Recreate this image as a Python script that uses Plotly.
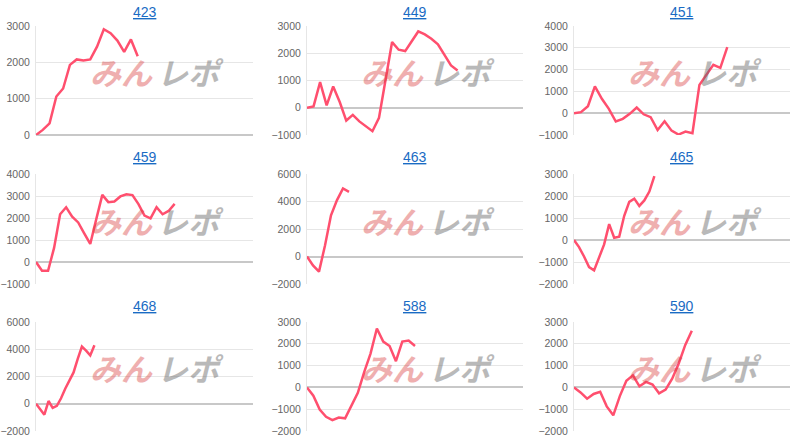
import plotly.graph_objects as go

titles = ["423", "449", "451", "459", "463", "465", "468", "588", "590"]

s423 = [0, 140, 320, 1060, 1280, 1930, 2080, 2050, 2080, 2430, 2910, 2800, 2600, 2290, 2630, 2170]
s449 = [0, 50, 940, 90, 780, 210, -470, -260, -500, -690, -860, -370, 1020, 2410, 2130, 2080,
        2440, 2800, 2690, 2530, 2330, 1920, 1550, 1370]
s451 = [0, 50, 320, 1230, 660, 200, -380, -260, -30, 260, -50, -180, -770, -370, -800, -980,
        -840, -920, 1300, 1760, 2220, 2080, 3030]
s459 = [0, -400, -400, 640, 2170, 2490, 2060, 1800, 1300, 820, 1950, 3050, 2720, 2750, 2980,
        3080, 3040, 2630, 2110, 1980, 2490, 2170, 2320, 2640]
s463 = [0, -650, -1100, 800, 3000, 4100, 4950, 4700]
s465 = [0, -320, -750, -1230, -1380, -800, -200, 720, 100, 150, 1100, 1730, 1880, 1550, 1800,
        2200, 2900]
s468 = [0, -400, -800, 200, -300, -150, 400, 1100, 1700, 2300, 3300, 4200, 3900, 3550, 4300]
s588 = [0, -380, -1020, -1350, -1500, -1380, -1420, -820, -250, 700, 1550, 2700, 2100, 1900,
        1200, 2100, 2150, 1900]
s590 = [0, -230, -520, -300, -200, -870, -1280, -400, 300, 550, 50, 250, 130, -270, -100, 400,
        1100, 1950, 2600]

series = [s423, s449, s451, s459, s463, s465, s468, s588, s590]
x_spans = [32, 33, 31, 36, 36, 43, 52, 34, 33]
y_ranges = [(0, 3000), (-1000, 3000), (-1000, 4000), (-1000, 4000), (-2000, 6000),
            (-2000, 3000), (-2000, 6000), (-2000, 3000), (-2000, 3000)]
y_dticks = [1000, 1000, 1000, 1000, 2000, 1000, 2000, 1000, 1000]

W, H = 800, 444
col_px = [(36, 253), (307, 523), (574, 790)]
row_px = [(26, 135), (174, 284), (322, 431)]
title_px = [12, 157, 306]

fig = go.Figure()
for i, (name, ys) in enumerate(zip(titles, series)):
    r, c = divmod(i, 3)
    n = i + 1
    xa = "x" if n == 1 else f"x{n}"
    ya = "y" if n == 1 else f"y{n}"
    fig.add_trace(go.Scatter(
        x=list(range(len(ys))), y=ys, mode="lines",
        line=dict(color="#ff4f6e", width=2.5),
        xaxis=xa, yaxis=ya, showlegend=False, hoverinfo="y",
    ))
    x0, x1 = col_px[c]
    top, bot = row_px[r]
    fig.layout[f"xaxis{'' if n == 1 else n}"] = dict(
        domain=[x0 / W, x1 / W], range=[0, x_spans[i]], anchor=ya,
        showticklabels=False, showgrid=False, zeroline=False, fixedrange=True,
    )
    fig.layout[f"yaxis{'' if n == 1 else n}"] = dict(
        domain=[1 - bot / H, 1 - top / H], range=list(y_ranges[i]), anchor=xa,
        dtick=y_dticks[i], showgrid=True, gridcolor="#e6e6e6", gridwidth=1,
        zeroline=True, zerolinecolor="#c8c8c8", zerolinewidth=1.5,
        showline=True, linecolor="#e6e6e6",
        tickfont=dict(size=10.5, color="#666666"), ticks="", ticklen=0,
        ticklabelstandoff=3,
    )
    # title link
    fig.add_annotation(
        x=(x0 + x1) / 2 / W, y=1 - title_px[r] / H, xref="paper", yref="paper",
        xanchor="center", yanchor="middle",
        text=f"<u>{name}</u>", showarrow=False,
        font=dict(size=14, color="#1a6bc4", family="Arial"),
    )
    # watermark
    cx = (x0 + 119) / W
    cy = 1 - (top + (bot - top) * 0.42) / H
    fig.add_annotation(
        x=cx, y=cy, xref="paper", yref="paper", xanchor="right", yanchor="middle",
        text="<b><i>みん</i></b>", showarrow=False, opacity=0.4,
        font=dict(size=31, color="#d83a3a", family="Noto Sans CJK JP"),
    )
    fig.add_annotation(
        x=cx, y=cy, xref="paper", yref="paper", xanchor="left", yanchor="middle",
        text="<b><i>レポ</i></b>", showarrow=False, opacity=0.45,
        font=dict(size=31, color="#666666", family="Noto Sans CJK JP"),
    )

fig.update_layout(
    width=W, height=H, margin=dict(l=0, r=0, t=0, b=0, autoexpand=False),
    plot_bgcolor="white", paper_bgcolor="white",
    font=dict(family="Arial"),
)

fig.write_html(
    "out.html",
    config={"displayModeBar": False},
    post_script="document.body.style.margin = '0';",
)
